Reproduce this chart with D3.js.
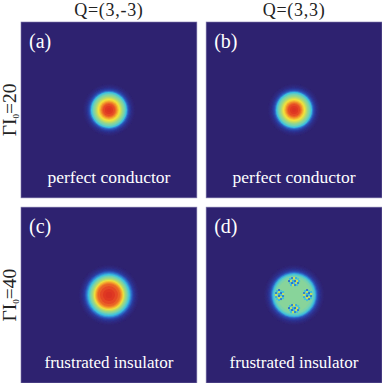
<!DOCTYPE html>
<html>
  <head>
    <meta charset="utf-8">
    <script src="https://d3js.org/d3.v7.min.js"></script>
    <title>Q panels</title>
    <style>
      body { margin: 0; background: #fff; }
      text { font-family: 'Liberation Serif', 'Times New Roman', serif; }
    </style>
  </head>
  <body>
    <svg width="382" height="383">
      <defs>
        <filter id="soft" x="-20%" y="-20%" width="140%" height="140%"><feGaussianBlur stdDeviation="0.6"></feGaussianBlur></filter>
        <filter id="softer" x="-20%" y="-20%" width="140%" height="140%"><feGaussianBlur stdDeviation="0.55"></feGaussianBlur></filter>
      </defs>
    </svg>
    <script>
      // rows and columns of the figure
      const columnLabels = ['Q=(3,-3)', 'Q=(3,3)'];
      const rowLabels = ['20', '40'];
      const panelNames = ['(a)', '(b)', '(c)', '(d)'];
      const captions = ['perfect conductor', 'perfect conductor', 'frustrated insulator', 'frustrated insulator'];

      // radial profiles: radius in px, level 0..1
      const radiiA = [26, 25, 24, 23, 22, 21, 20, 19, 18, 17, 16, 15, 14, 13, 12, 11, 10, 9, 8, 7, 6, 4, 2];
      const levelsA = [0.01, 0.02, 0.035, 0.05, 0.08, 0.11, 0.15, 0.22, 0.3, 0.36, 0.42, 0.47, 0.52, 0.58, 0.63, 0.68, 0.72, 0.77, 0.81, 0.85, 0.88, 0.92, 0.95];
      const radiiB = [26, 25, 24, 23, 22, 21, 20, 19, 18, 17, 16, 15, 14, 13, 12, 11, 10, 9, 8, 7, 6, 4, 2];
      const levelsB = [0.01, 0.02, 0.035, 0.05, 0.08, 0.11, 0.15, 0.22, 0.3, 0.36, 0.42, 0.47, 0.52, 0.58, 0.63, 0.68, 0.72, 0.77, 0.81, 0.85, 0.88, 0.92, 0.95];
      const radiiC = [30, 29, 28, 27, 26, 25, 24, 23, 22, 21, 20, 19, 18, 17, 16, 15, 14, 13, 12, 11, 9, 6, 3];
      const levelsC = [0.01, 0.02, 0.035, 0.05, 0.075, 0.1, 0.15, 0.2, 0.25, 0.3, 0.36, 0.42, 0.48, 0.54, 0.6, 0.67, 0.73, 0.78, 0.82, 0.85, 0.88, 0.92, 0.95];
      const radiiD = [30, 29, 28, 27, 26, 25, 24, 23, 22, 21, 20, 19, 17];
      const levelsD = [0.01, 0.02, 0.035, 0.05, 0.075, 0.1, 0.14, 0.2, 0.27, 0.33, 0.38, 0.43, 0.47];
      const allRadii = [radiiA, radiiB, radiiC, radiiD];
      const allLevels = [levelsA, levelsB, levelsC, levelsD];

      // lobes of panel d, offset from centre in px
      const lobeDx = [0, 0, -14, 14];
      const lobeDy = [-13, 14, 0, 0];
      // speckle inside a lobe: offset along and across, level
      const speckAlong = [-4, -2, 0, 2, 4, -5, -3, -1, 1, 3, 5, -4, -2, 0, 2, 4, -3, -1, 1, 3];
      const speckAcross = [-3, -4, -4, -4, -3, -1, -1, -1, -1, -1, -1, 1, 1, 1, 1, 1, 3, 3, 3, 3];
      const speckLevel = [0.3, 0.22, 0.62, 0.28, 0.34, 0.2, 0.6, 0.28, 0.2, 0.62, 0.3, 0.34, 0.2, 0.3, 0.58, 0.22, 0.3, 0.6, 0.22, 0.32];

      const svg = d3.select('svg');
      const xPanel = d3.scaleBand().domain([0, 1]).range([21, 382]).paddingInner(0.05).paddingOuter(0);
      const yPanel = d3.scaleBand().domain([0, 1]).range([22, 383]).paddingInner(0.05).paddingOuter(0);
      const size = xPanel.bandwidth();
      const rScale = d3.scaleLinear().domain([0, 40]).range([0, 40]);

      // jet style map
      const jet = d3.scaleLinear()
        .domain([0, 0.08, 0.18, 0.3, 0.42, 0.55, 0.68, 0.78, 0.9, 1])
        .range(['#2e2270', '#2d3596', '#2b62c6', '#3cc0e0', '#74d2b0', '#a8d878', '#f2e23c', '#f39a2c', '#e23a24', '#d22a22'])
        .clamp(true);

      panelNames.forEach((name, i) => {
        const col = i % 2, row = Math.floor(i / 2);
        const g = svg.append('g')
          .attr('transform', `translate(${xPanel(col)},${yPanel(row)})`);
        g.append('rect')
          .attr('width', size).attr('height', size)
          .attr('fill', jet(0))
          .attr('stroke', '#7f78ab').attr('stroke-width', 0.6);
        const c = size / 2;
        const rings = d3.zip(allRadii[i], allLevels[i]);
        g.append('g').attr('filter', 'url(#soft)')
          .selectAll('circle').data(rings).enter().append('circle')
          .attr('cx', c).attr('cy', c)
          .attr('r', d => rScale(d[0]))
          .attr('fill', d => jet(d[1]));
        if (i === 3) {
          lobeDx.forEach((dx, k) => {
            const vertical = dx === 0;
            const lobe = g.append('g')
              .attr('filter', 'url(#softer)')
              .attr('transform', `translate(${c + dx},${c + lobeDy[k]})`);
            lobe.selectAll('rect').data(d3.range(speckAlong.length)).enter().append('rect')
              .attr('x', j => (vertical ? speckAlong[j] : speckAcross[j]) - 1)
              .attr('y', j => (vertical ? speckAcross[j] : speckAlong[j]) - 1)
              .attr('width', 2).attr('height', 2)
              .attr('fill', j => jet(speckLevel[j]));
          });
        }
        g.append('text')
          .attr('x', 8).attr('y', 26)
          .attr('fill', '#fff').attr('font-size', 20)
          .text(name);
        g.append('text')
          .attr('x', c).attr('y', 161)
          .attr('text-anchor', 'middle')
          .attr('fill', '#fff')
          .attr('font-size', i < 2 ? 17.5 : 17)
          .text(captions[i]);
      });

      columnLabels.forEach((t, i) => {
        svg.append('text')
          .attr('x', xPanel(i) + size / 2).attr('y', 16)
          .attr('text-anchor', 'middle').attr('font-size', 18).attr('letter-spacing', 0.7).attr('fill', '#222')
          .text(t);
      });

      rowLabels.forEach((t, i) => {
        const label = svg.append('text')
          .attr('transform', `translate(16,${yPanel(i) + size / 2}) rotate(-90)`)
          .attr('text-anchor', 'middle').attr('font-size', 19.5).attr('fill', '#222');
        label.append('tspan').text('\u0393');
        label.append('tspan').text('I');
        label.append('tspan').attr('font-size', 9).attr('dy', 3).text('0');
        label.append('tspan').attr('dy', -3).text('=' + t);
      });
    </script>
  </body>
</html>
